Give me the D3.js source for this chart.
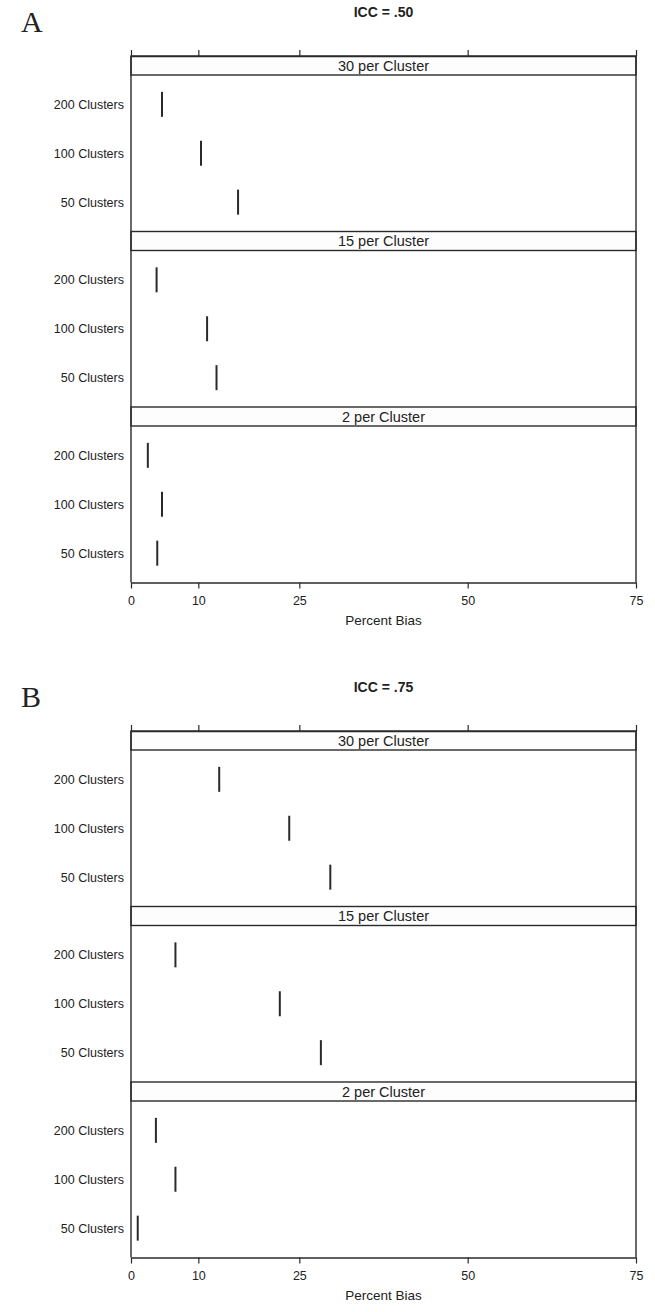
<!DOCTYPE html>
<html>
<head>
<meta charset="utf-8">
<script src="https://cdn.jsdelivr.net/npm/d3@7"></script>
<style>
  body { margin: 0; background: #fff; }
  svg { display: block; }
  text { font-family: "Liberation Sans", Arial, sans-serif; fill: #222; }
</style>
</head>
<body>
<svg id="chart" width="655" height="1312"></svg>
<script>
// categories
const sizes = ['30 per Cluster', '15 per Cluster', '2 per Cluster']
const clusters = ['200 Clusters', '100 Clusters', '50 Clusters']
const xTicks = [0, 10, 25, 50, 75]

// percent bias, ICC = .50 (one array per cluster size, order = clusters)
const icc50_30 = [4.6, 10.4, 15.9]
const icc50_15 = [3.8, 11.3, 12.7]
const icc50_2 = [2.5, 4.6, 3.9]

// percent bias, ICC = .75
const icc75_30 = [13.1, 23.5, 29.6]
const icc75_15 = [6.6, 22.1, 28.2]
const icc75_2 = [3.7, 6.6, 1.0]

const panels = [
	{ letter: 'A', title: 'ICC = .50', top: 56, series: [icc50_30, icc50_15, icc50_2] },
	{ letter: 'B', title: 'ICC = .75', top: 731, series: [icc75_30, icc75_15, icc75_2] }
]

const svg = d3.select('#chart')
const stripH = 19
const cellH = 156.5
const ink = '#2a2a2a'

const x = d3.scaleLinear()
	.domain([0, 75])
	.range([131, 636])

// rows inside one cell
const y = d3.scalePoint()
	.domain(clusters)
	.range([0, cellH])
	.padding(0.6)

panels.forEach(function (p) {
	const g = svg.append('g')
	const bottom = p.top + sizes.length * (stripH + cellH)

	// letter and title
	g.append('text')
		.attr('x', 21)
		.attr('y', p.top - 24)
		.style('font-family', '"Liberation Serif", "Times New Roman", serif')
		.attr('font-size', '30px')
		.text(p.letter)

	g.append('text')
		.attr('x', (x.range()[0] + x.range()[1]) / 2)
		.attr('y', p.top - 39)
		.attr('text-anchor', 'middle')
		.attr('font-size', '14px')
		.attr('font-weight', 'bold')
		.text(p.title)

	sizes.forEach(function (s, i) {
		const sTop = p.top + i * (stripH + cellH)
		const cTop = sTop + stripH

		// strip
		g.append('rect')
			.attr('x', x(0))
			.attr('y', sTop)
			.attr('width', x(75) - x(0))
			.attr('height', stripH)
			.attr('fill', '#fdfdfd')
			.attr('stroke', ink)
			.attr('stroke-width', 1.4)

		g.append('text')
			.attr('x', (x(0) + x(75)) / 2)
			.attr('y', sTop + stripH / 2 + 5)
			.attr('text-anchor', 'middle')
			.attr('font-size', '14.5px')
			.text(s)

		// row labels
		g.selectAll(null)
			.data(clusters)
			.enter()
			.append('text')
			.attr('x', 124)
			.attr('y', d => cTop + y(d) + 4.5)
			.attr('text-anchor', 'end')
			.attr('font-size', '12.5px')
			.text(d => d)

		// bias markers
		g.selectAll(null)
			.data(p.series[i])
			.enter()
			.append('line')
			.attr('x1', d => x(d))
			.attr('x2', d => x(d))
			.attr('y1', (d, j) => cTop + y(clusters[j]) - 12.5)
			.attr('y2', (d, j) => cTop + y(clusters[j]) + 12.5)
			.attr('stroke', ink)
			.attr('stroke-width', 2)
	})

	// frame sides
	g.append('line')
		.attr('x1', x(0)).attr('x2', x(0))
		.attr('y1', p.top).attr('y2', bottom)
		.attr('stroke', ink).attr('stroke-width', 1.4)
	g.append('line')
		.attr('x1', x(75)).attr('x2', x(75))
		.attr('y1', p.top).attr('y2', bottom)
		.attr('stroke', ink).attr('stroke-width', 1.4)

	// top axis, ticks only
	const top = g.append('g')
		.attr('transform', 'translate(0,' + p.top + ')')
		.call(d3.axisTop(x).tickValues(xTicks).tickSize(6).tickSizeOuter(0).tickFormat(''))
	top.select('.domain').attr('stroke', ink).attr('stroke-width', 1.4)
	top.selectAll('.tick line').attr('stroke', ink).attr('stroke-width', 1.2)

	// bottom axis
	const bot = g.append('g')
		.attr('transform', 'translate(0,' + bottom + ')')
		.call(d3.axisBottom(x).tickValues(xTicks).tickSize(6).tickSizeOuter(0).tickPadding(8))
	bot.select('.domain').attr('stroke', ink).attr('stroke-width', 1.4)
	bot.selectAll('.tick line').attr('stroke', ink).attr('stroke-width', 1.2)
	bot.selectAll('.tick text')
		.attr('font-size', '12.5px')
		.style('font-family', '"Liberation Sans", Arial, sans-serif')
		.attr('fill', '#222')

	g.append('text')
		.attr('x', (x.range()[0] + x.range()[1]) / 2)
		.attr('y', bottom + 42)
		.attr('text-anchor', 'middle')
		.attr('font-size', '13.5px')
		.text('Percent Bias')
})
</script>
</body>
</html>
